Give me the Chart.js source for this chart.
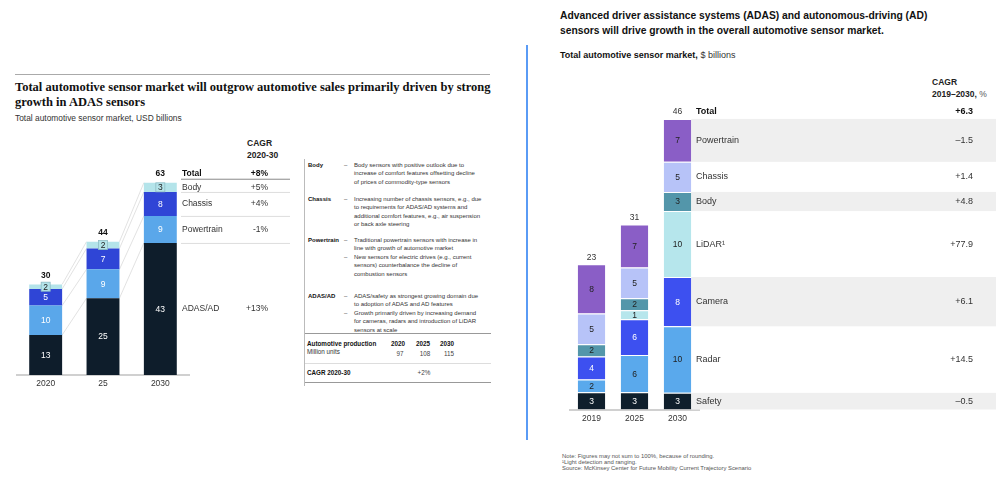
<!DOCTYPE html>
<html>
<head>
<meta charset="utf-8">
<script src="https://cdn.jsdelivr.net/npm/chart.js@4.4.1/dist/chart.umd.min.js"></script>
<style>
  body { margin: 0; background: #fff; width: 999px; height: 477px; position: relative; overflow: hidden;
         font-family: "Liberation Sans", Arial, sans-serif; color: #222; }
  canvas { position: absolute; left: 0; top: 0; }
  .abs { position: absolute; white-space: nowrap; }
  .sec { position: absolute; left: 3px; font-size: 6px; line-height: 8.5px; color: #333; }
  .sec b { position: absolute; left: 0; color: #111; }
  .bul { position: relative; left: 46px; white-space: nowrap; }
  .bul span { position: absolute; left: -10px; }
  .hr { position: absolute; height: 0; }
</style>
</head>
<body>
<div class="hr" style="left:15px;top:74px;width:475px;border-top:1.5px solid #aaa"></div>
<div class="abs" style="left:15px;top:80px;font:bold 12.5px/15px 'Liberation Serif',serif;color:#111">Total automotive sensor market will outgrow automotive sales primarily driven by strong<br>growth in ADAS sensors</div>
<div class="abs" style="left:15px;top:113px;font-size:8.4px;line-height:10px;color:#333">Total automotive sensor market, USD billions</div>
<div class="abs" style="left:247px;top:137px;font-size:8.5px;line-height:12px;font-weight:bold;color:#222">CAGR<br>2020-30</div>

<div id="notes" style="position:absolute;left:304px;top:159px;width:186px;height:227px;border-left:1px solid #bbb">
  <div class="sec" style="top:1.75px"><b>Body</b>
    <div class="bul"><span>–</span>Body sensors with positive outlook due to<br>increase of comfort features offsetting decline<br>of prices of commodity-type sensors</div></div>
  <div class="sec" style="top:35.5px"><b>Chassis</b>
    <div class="bul"><span>–</span>Increasing number of chassis sensors, e.g., due<br>to requirements for ADAS/AD systems and<br>additional comfort features, e.g., air suspension<br>or back axle steering</div></div>
  <div class="sec" style="top:76.75px"><b>Powertrain</b>
    <div class="bul"><span>–</span>Traditional powertrain sensors with increase in<br>line with growth of automotive market</div>
    <div class="bul"><span>–</span>New sensors for electric drives (e.g., current<br>sensors) counterbalance the decline of<br>combustion sensors</div></div>
  <div class="sec" style="top:132.5px"><b>ADAS/AD</b>
    <div class="bul"><span>–</span>ADAS/safety as strongest growing domain due<br>to adoption of ADAS and AD features</div>
    <div class="bul"><span>–</span>Growth primarily driven by increasing demand<br>for cameras, radars and introduction of LiDAR<br>sensors at scale</div></div>
</div>
<div id="prod"></div>

<div class="abs" style="left:526px;top:45px;width:2px;height:395px;background:#5a9bf5"></div>
<div class="abs" style="left:560px;top:7.5px;font:bold 10.3px/15px 'Liberation Sans',Arial,sans-serif;color:#111">Advanced driver assistance systems (ADAS) and autonomous-driving (AD)<br>sensors will drive growth in the overall automotive sensor market.</div>
<div class="abs" style="left:560px;top:50px;font-size:9px;line-height:10px;color:#333"><b style="color:#111">Total automotive sensor market,</b> $ billions</div>
<div class="abs" style="left:932px;top:76px;font-size:8.5px;line-height:12px;color:#222"><b>CAGR</b><br><b>2019–2030,</b> <span style="color:#555">%</span></div>
<div class="abs" style="left:562px;top:453px;font-size:5.9px;line-height:6.2px;color:#555">Note: Figures may not sum to 100%, because of rounding.<br>¹Light detection and ranging.<br>Source: McKinsey Center for Future Mobility Current Trajectory Scenario</div>

<canvas id="leftChart" width="999" height="477"></canvas>
<canvas id="rightChart" width="999" height="477"></canvas>

<script>
// left chart, USD billions
const leftYears = ["2020", "25", "2030"];
const leftSegments = ["ADAS/AD", "Powertrain", "Chassis", "Body"];
const leftAdas = [13, 25, 43];
const leftPowertrain = [9.6, 9.4, 8.8];
const leftChassis = [5.4, 6.8, 7.8];
const leftBody = [1.5, 2.2, 3.0];
const leftTotals = [30, 44, 63];
const leftCagr = ["+13%", "-1%", "+4%", "+5%"];
const leftCagrTotal = "+8%";

// automotive production, million units
const prodYears = ["2020", "2025", "2030"];
const prodUnits = [97, 108, 115];
const prodCagr = "+2%";

// right chart, $ billions
const rightYears = ["2019", "2025", "2030"];
const rightSegments = ["Safety", "Radar", "Camera", "LiDAR¹", "Body", "Chassis", "Powertrain"];
const rightSafety = [2.7, 2.7, 2.6];
const rightRadar = [2.0, 5.8, 10.4];
const rightCamera = [3.6, 5.6, 7.7];
const rightLidar = [0, 1.4, 10.3];
const rightBody = [1.9, 1.9, 3.0];
const rightChassis = [4.8, 4.8, 4.7];
const rightPowertrain = [7.7, 6.7, 6.7];
const rightTotals = [23, 31, 46];
const rightCagr = ["–0.5", "+14.5", "+6.1", "+77.9", "+4.8", "+1.4", "–1.5"];
const rightCagrTotal = "+6.3";

const FONT = "'Liberation Sans', Arial, sans-serif";

// production table (html)
const prod = document.getElementById("prod");
const yearX = [398, 423, 447];
let html = '<div class="hr" style="left:305px;top:332.5px;width:186px;border-top:1.5px solid #999"></div>' +
  '<div class="abs" style="left:307px;top:339.5px;font-size:6.3px;line-height:8.5px;color:#333"><b style="color:#111">Automotive production</b><br>Million units</div>' +
  '<div class="hr" style="left:305px;top:363px;width:186px;border-top:1px solid #ddd"></div>' +
  '<div class="abs" style="left:307px;top:369px;font-size:6.3px;line-height:8.5px;font-weight:bold;color:#111">CAGR 2020-30</div>' +
  '<div class="hr" style="left:305px;top:381.5px;width:186px;border-top:1.5px solid #999"></div>';
prodYears.forEach((y, i) => {
  html += `<div class="abs" style="left:${yearX[i] - 15}px;width:30px;text-align:center;top:339.5px;font-size:6.3px;line-height:8.5px;font-weight:bold;color:#111">${y}</div>`;
  html += `<div class="abs" style="left:${yearX[i] - 13}px;width:30px;text-align:center;top:350px;font-size:6.3px;line-height:8.5px;color:#444">${prodUnits[i]}</div>`;
});
html += `<div class="abs" style="left:${yearX[1] - 14}px;width:30px;text-align:center;top:369px;font-size:6.3px;line-height:8.5px;color:#444">${prodCagr}</div>`;
prod.innerHTML = html;

function segLabels(chart, textColors, size, boxed) {
  const ctx = chart.ctx;
  ctx.save();
  ctx.font = size + "px " + FONT;
  ctx.textAlign = "center";
  ctx.textBaseline = "middle";
  chart.data.datasets.forEach((ds, i) => {
    const meta = chart.getDatasetMeta(i);
    meta.data.forEach((bar, j) => {
      const v = ds.data[j];
      if (!v) return;
      const cy = (bar.y + bar.base) / 2;
      if (boxed && boxed[i]) {
        ctx.fillStyle = ds.backgroundColor;
        ctx.strokeStyle = "#8fbcc4";
        ctx.lineWidth = 0.8;
        ctx.fillRect(bar.x - 4.5, cy - 4.5, 9, 9);
        ctx.strokeRect(bar.x - 4.5, cy - 4.5, 9, 9);
      }
      ctx.fillStyle = textColors[i];
      ctx.fillText(Math.round(v), bar.x, cy + 0.5);
    });
  });
  ctx.restore();
}

const leftPlugin = {
  id: "leftExtras",
  beforeDatasetsDraw(chart) {
    const ctx = chart.ctx;
    ctx.save();
    ctx.strokeStyle = "#d6d6d6";
    ctx.lineWidth = 0.7;
    chart.data.datasets.forEach((ds, i) => {
      const bars = chart.getDatasetMeta(i).data;
      for (let j = 0; j < bars.length - 1; j++) {
        const a = bars[j], b = bars[j + 1];
        ctx.beginPath();
        ctx.moveTo(a.x + a.width / 2, a.y);
        ctx.lineTo(b.x - b.width / 2, b.y);
        ctx.stroke();
      }
    });
    ctx.restore();
  },
  afterDatasetsDraw(chart) {
    const ctx = chart.ctx;
    segLabels(chart, ["#fff", "#fff", "#fff", "#222"], 8.5, [false, false, false, true]);
    const y = chart.scales.y;
    ctx.save();
    ctx.textBaseline = "middle";
    ctx.textAlign = "center";
    ctx.fillStyle = "#111";
    ctx.font = "bold 8.5px " + FONT;
    const top = [];
    leftTotals.forEach((t, j) => {
      const x = chart.getDatasetMeta(0).data[j].x;
      const sum = leftAdas[j] + leftPowertrain[j] + leftChassis[j] + leftBody[j];
      top[j] = y.getPixelForValue(sum);
      ctx.fillText(t, x, top[j] - 9);
    });
    // side table
    const tx = 182, vx = 268, rx = 290;
    ctx.textAlign = "left";
    ctx.fillText("Total", tx, top[2] - 9);
    ctx.textAlign = "right";
    ctx.fillText(leftCagrTotal, vx, top[2] - 9);
    ctx.strokeStyle = "#888";
    ctx.lineWidth = 1;
    ctx.beginPath(); ctx.moveTo(tx - 1, top[2] - 3.5); ctx.lineTo(rx, top[2] - 3.5); ctx.stroke();
    ctx.font = "8.5px " + FONT;
    ctx.fillStyle = "#333";
    ctx.strokeStyle = "#ddd";
    leftSegments.forEach((name, i) => {
      const bar = chart.getDatasetMeta(i).data[2];
      const cy = (bar.y + bar.base) / 2;
      ctx.textAlign = "left";
      ctx.fillText(name, tx, cy);
      ctx.textAlign = "right";
      ctx.fillText(leftCagr[i], vx, cy);
      if (i < leftSegments.length - 1) {
        ctx.beginPath(); ctx.moveTo(tx - 1, bar.y + 0.5); ctx.lineTo(rx, bar.y + 0.5); ctx.stroke();
      }
    });
    ctx.restore();
  }
};

const rightPlugin = {
  id: "rightExtras",
  beforeDatasetsDraw(chart) {
    const ctx = chart.ctx;
    ctx.save();
    ctx.fillStyle = "#efefef";
    chart.data.datasets.forEach((ds, i) => {
      if (i % 2 !== 0) return;
      const bar = chart.getDatasetMeta(i).data[2];
      const x0 = bar.x + bar.width / 2;
      ctx.fillRect(x0, bar.y, 996 - x0, bar.base - bar.y);
    });
    ctx.restore();
  },
  afterDatasetsDraw(chart) {
    const ctx = chart.ctx;
    segLabels(chart, ["#fff", "#222", "#fff", "#222", "#222", "#222", "#222"], 8.5);
    const y = chart.scales.y;
    ctx.save();
    ctx.textBaseline = "middle";
    ctx.textAlign = "center";
    ctx.font = "8.5px " + FONT;
    ctx.fillStyle = "#333";
    let top2030 = 0;
    rightTotals.forEach((t, j) => {
      const x = chart.getDatasetMeta(0).data[j].x;
      let sum = 0;
      chart.data.datasets.forEach(ds => { sum += ds.data[j]; });
      const top = y.getPixelForValue(sum);
      if (j === 2) top2030 = top;
      ctx.fillText(t, x, top - 7);
    });
    const lx = 696, vx = 973;
    ctx.font = "bold 9px " + FONT;
    ctx.fillStyle = "#111";
    ctx.textAlign = "left";
    ctx.fillText("Total", lx, top2030 - 7);
    ctx.textAlign = "right";
    ctx.fillText(rightCagrTotal, vx, top2030 - 7);
    ctx.font = "9px " + FONT;
    ctx.fillStyle = "#333";
    rightSegments.forEach((name, i) => {
      const bar = chart.getDatasetMeta(i).data[2];
      const cy = (bar.y + bar.base) / 2;
      ctx.textAlign = "left";
      ctx.fillText(name, lx, cy);
      ctx.textAlign = "right";
      ctx.fillText(rightCagr[i], vx, cy);
    });
    ctx.restore();
  }
};

function makeSet(label, data, color, border) {
  return {
    label, data, backgroundColor: color,
    borderColor: "#fff", borderWidth: border ? { top: 1 } : 0, borderSkipped: "start"
  };
}

function baseOptions(pad, ymax, barPct) {
  return {
    responsive: false,
    animation: false,
    layout: { padding: pad },
    datasets: { bar: { barPercentage: barPct, categoryPercentage: 1 } },
    plugins: { legend: { display: false }, tooltip: { enabled: false } },
    scales: {
      x: {
        stacked: true,
        grid: { display: false, drawTicks: false },
        border: { display: true, color: "#d0d0d0", width: 2 },
        ticks: { color: "#333", font: { family: FONT, size: 8.5 }, padding: 4 },
        afterFit: s => { s.height = 16; }
      },
      y: { stacked: true, display: false, min: 0, max: ymax }
    }
  };
}

new Chart(document.getElementById("leftChart"), {
  type: "bar",
  data: {
    labels: leftYears,
    datasets: [
      makeSet("ADAS/AD", leftAdas, "#0e1d2b"),
      makeSet("Powertrain", leftPowertrain, "#5aa7ea"),
      makeSet("Chassis", leftChassis, "#2f45d6"),
      makeSet("Body", leftBody, "#b4e4ea")
    ]
  },
  options: baseOptions({ left: 17, right: 810, top: 160, bottom: 86 }, 70, 0.574),
  plugins: [leftPlugin]
});

new Chart(document.getElementById("rightChart"), {
  type: "bar",
  data: {
    labels: rightYears,
    datasets: [
      makeSet("Safety", rightSafety, "#0f1f2c", true),
      makeSet("Radar", rightRadar, "#5aa9ec", true),
      makeSet("Camera", rightCamera, "#3d50f0", true),
      makeSet("LiDAR", rightLidar, "#b6e6ec", true),
      makeSet("Body", rightBody, "#5396aa", true),
      makeSet("Chassis", rightChassis, "#b7c3f8", true),
      makeSet("Powertrain", rightPowertrain, "#8a5ec6", true)
    ]
  },
  options: baseOptions({ left: 570, right: 300, top: 89.5, bottom: 51.5 }, 50, 0.64),
  plugins: [rightPlugin]
});
</script>
</body>
</html>
